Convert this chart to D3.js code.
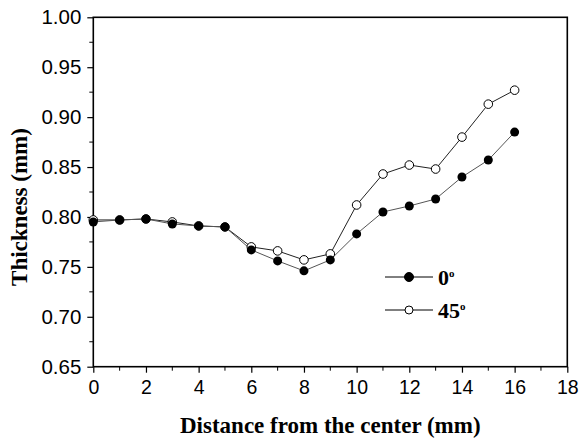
<!DOCTYPE html>
<html>
<head>
<meta charset="utf-8">
<script src="https://cdn.jsdelivr.net/npm/d3@7"></script>
<style>
  body { margin: 0; background: #fff; }
  svg { display: block; }
</style>
</head>
<body>
<div id="chart"></div>
<script>
// Tamaño de la figura
const width = 580;
const height = 440;

// Datos
const distances = [0, 1, 2, 3, 4, 5, 6, 7, 8, 9, 10, 11, 12, 13, 14, 15, 16];
const thickness0 = [0.795, 0.797, 0.798, 0.793, 0.791, 0.790, 0.767, 0.756, 0.746, 0.757, 0.783, 0.805, 0.811, 0.818, 0.840, 0.857, 0.885];
const thickness45 = [0.797, 0.797, 0.798, 0.795, 0.791, 0.790, 0.770, 0.766, 0.757, 0.763, 0.812, 0.843, 0.852, 0.848, 0.880, 0.913, 0.927];
const seriesNames = ["0", "45"];
const xTicks = [0, 2, 4, 6, 8, 10, 12, 14, 16, 18];
const yTicks = [0.65, 0.70, 0.75, 0.80, 0.85, 0.90, 0.95, 1.00];

// Márgenes del área de trazado
const margin = { top: 17.3, right: 12.7, bottom: 73.3, left: 93.3 };
const innerW = width - margin.left - margin.right;
const innerH = height - margin.top - margin.bottom;

const x = d3.scaleLinear().domain([0, 18]).range([0, innerW]);
const y = d3.scaleLinear().domain([0.65, 1.00]).range([innerH, 0]);

const svg = d3.select("#chart").append("svg")
  .attr("width", width)
  .attr("height", height);

const g = svg.append("g")
  .attr("transform", `translate(${margin.left},${margin.top})`);

// Ticks menores
const xMinor = d3.range(1, 18, 2);
const yMinor = d3.range(0.675, 1.0, 0.05);

g.selectAll(".xminor").data(xMinor).enter().append("line")
  .attr("x1", d => x(d)).attr("x2", d => x(d))
  .attr("y1", innerH).attr("y2", innerH + 4)
  .attr("stroke", "#000").attr("stroke-width", 1);

g.selectAll(".yminor").data(yMinor).enter().append("line")
  .attr("y1", d => y(d)).attr("y2", d => y(d))
  .attr("x1", 0).attr("x2", -4)
  .attr("stroke", "#000").attr("stroke-width", 1);

// Ejes
const xAxis = g.append("g")
  .attr("transform", `translate(0,${innerH})`)
  .call(d3.axisBottom(x).tickValues(xTicks).tickSize(6).tickPadding(5).tickFormat(d3.format("d")));

const yAxis = g.append("g")
  .call(d3.axisLeft(y).tickValues(yTicks).tickSize(6).tickPadding(6).tickFormat(d3.format(".2f")));

[xAxis, yAxis].forEach(ax => {
  ax.select(".domain").remove();
  ax.selectAll(".tick line").attr("stroke", "#000").attr("stroke-width", 1.2);
  ax.selectAll(".tick text")
    .attr("fill", "#000")
    .style("font-family", "'Liberation Sans', Arial, sans-serif");
});
xAxis.selectAll(".tick text").attr("dy", "0.85em").style("font-size", "19.5px");
yAxis.selectAll(".tick text").style("font-size", "20.5px");

// Marco del gráfico
g.append("rect")
  .attr("width", innerW)
  .attr("height", innerH)
  .attr("fill", "none")
  .attr("stroke", "#000")
  .attr("stroke-width", 1.6);

// Líneas y marcadores
const line = d3.line()
  .x((d, i) => x(distances[i]))
  .y(d => y(d));

g.append("path")
  .datum(thickness45)
  .attr("fill", "none")
  .attr("stroke", "#222")
  .attr("stroke-width", 1)
  .attr("d", line);

g.append("path")
  .datum(thickness0)
  .attr("fill", "none")
  .attr("stroke", "#555")
  .attr("stroke-width", 1)
  .attr("d", line);

g.selectAll(".p45").data(thickness45).enter().append("circle")
  .attr("cx", (d, i) => x(distances[i]))
  .attr("cy", d => y(d))
  .attr("r", 4.3)
  .attr("fill", "#fff")
  .attr("stroke", "#000")
  .attr("stroke-width", 1);

g.selectAll(".p0").data(thickness0).enter().append("circle")
  .attr("cx", (d, i) => x(distances[i]))
  .attr("cy", d => y(d))
  .attr("r", 4.5)
  .attr("fill", "#000");

// Leyenda
const legend = svg.append("g").attr("transform", "translate(385,277)");
seriesNames.forEach((name, i) => {
  const row = legend.append("g").attr("transform", `translate(0,${i * 33})`);
  row.append("line")
    .attr("x1", 0).attr("x2", 48)
    .attr("stroke", "#000").attr("stroke-width", 1);
  row.append("circle")
    .attr("cx", 24).attr("cy", 0)
    .attr("r", i === 0 ? 4.5 : 4)
    .attr("fill", i === 0 ? "#000" : "#fff")
    .attr("stroke", "#000").attr("stroke-width", 1);
  const t = row.append("text")
    .attr("x", 53).attr("y", 8)
    .style("font-family", "'Liberation Serif', 'Times New Roman', serif")
    .style("font-weight", "bold")
    .style("font-size", "22px")
    .text(name);
  t.append("tspan")
    .attr("dy", "-0.7em")
    .style("font-size", "11px")
    .text("o");
});

// Títulos de los ejes
svg.append("text")
  .attr("x", margin.left + innerW / 2)
  .attr("y", 433)
  .attr("text-anchor", "middle")
  .style("font-family", "'Liberation Serif', 'Times New Roman', serif")
  .style("font-weight", "bold")
  .style("font-size", "23px")
  .text("Distance from the center (mm)");

svg.append("text")
  .attr("transform", "translate(27,207) rotate(-90)")
  .attr("text-anchor", "middle")
  .style("font-family", "'Liberation Serif', 'Times New Roman', serif")
  .style("font-weight", "bold")
  .style("font-size", "23px")
  .text("Thickness (mm)");
</script>
</body>
</html>
